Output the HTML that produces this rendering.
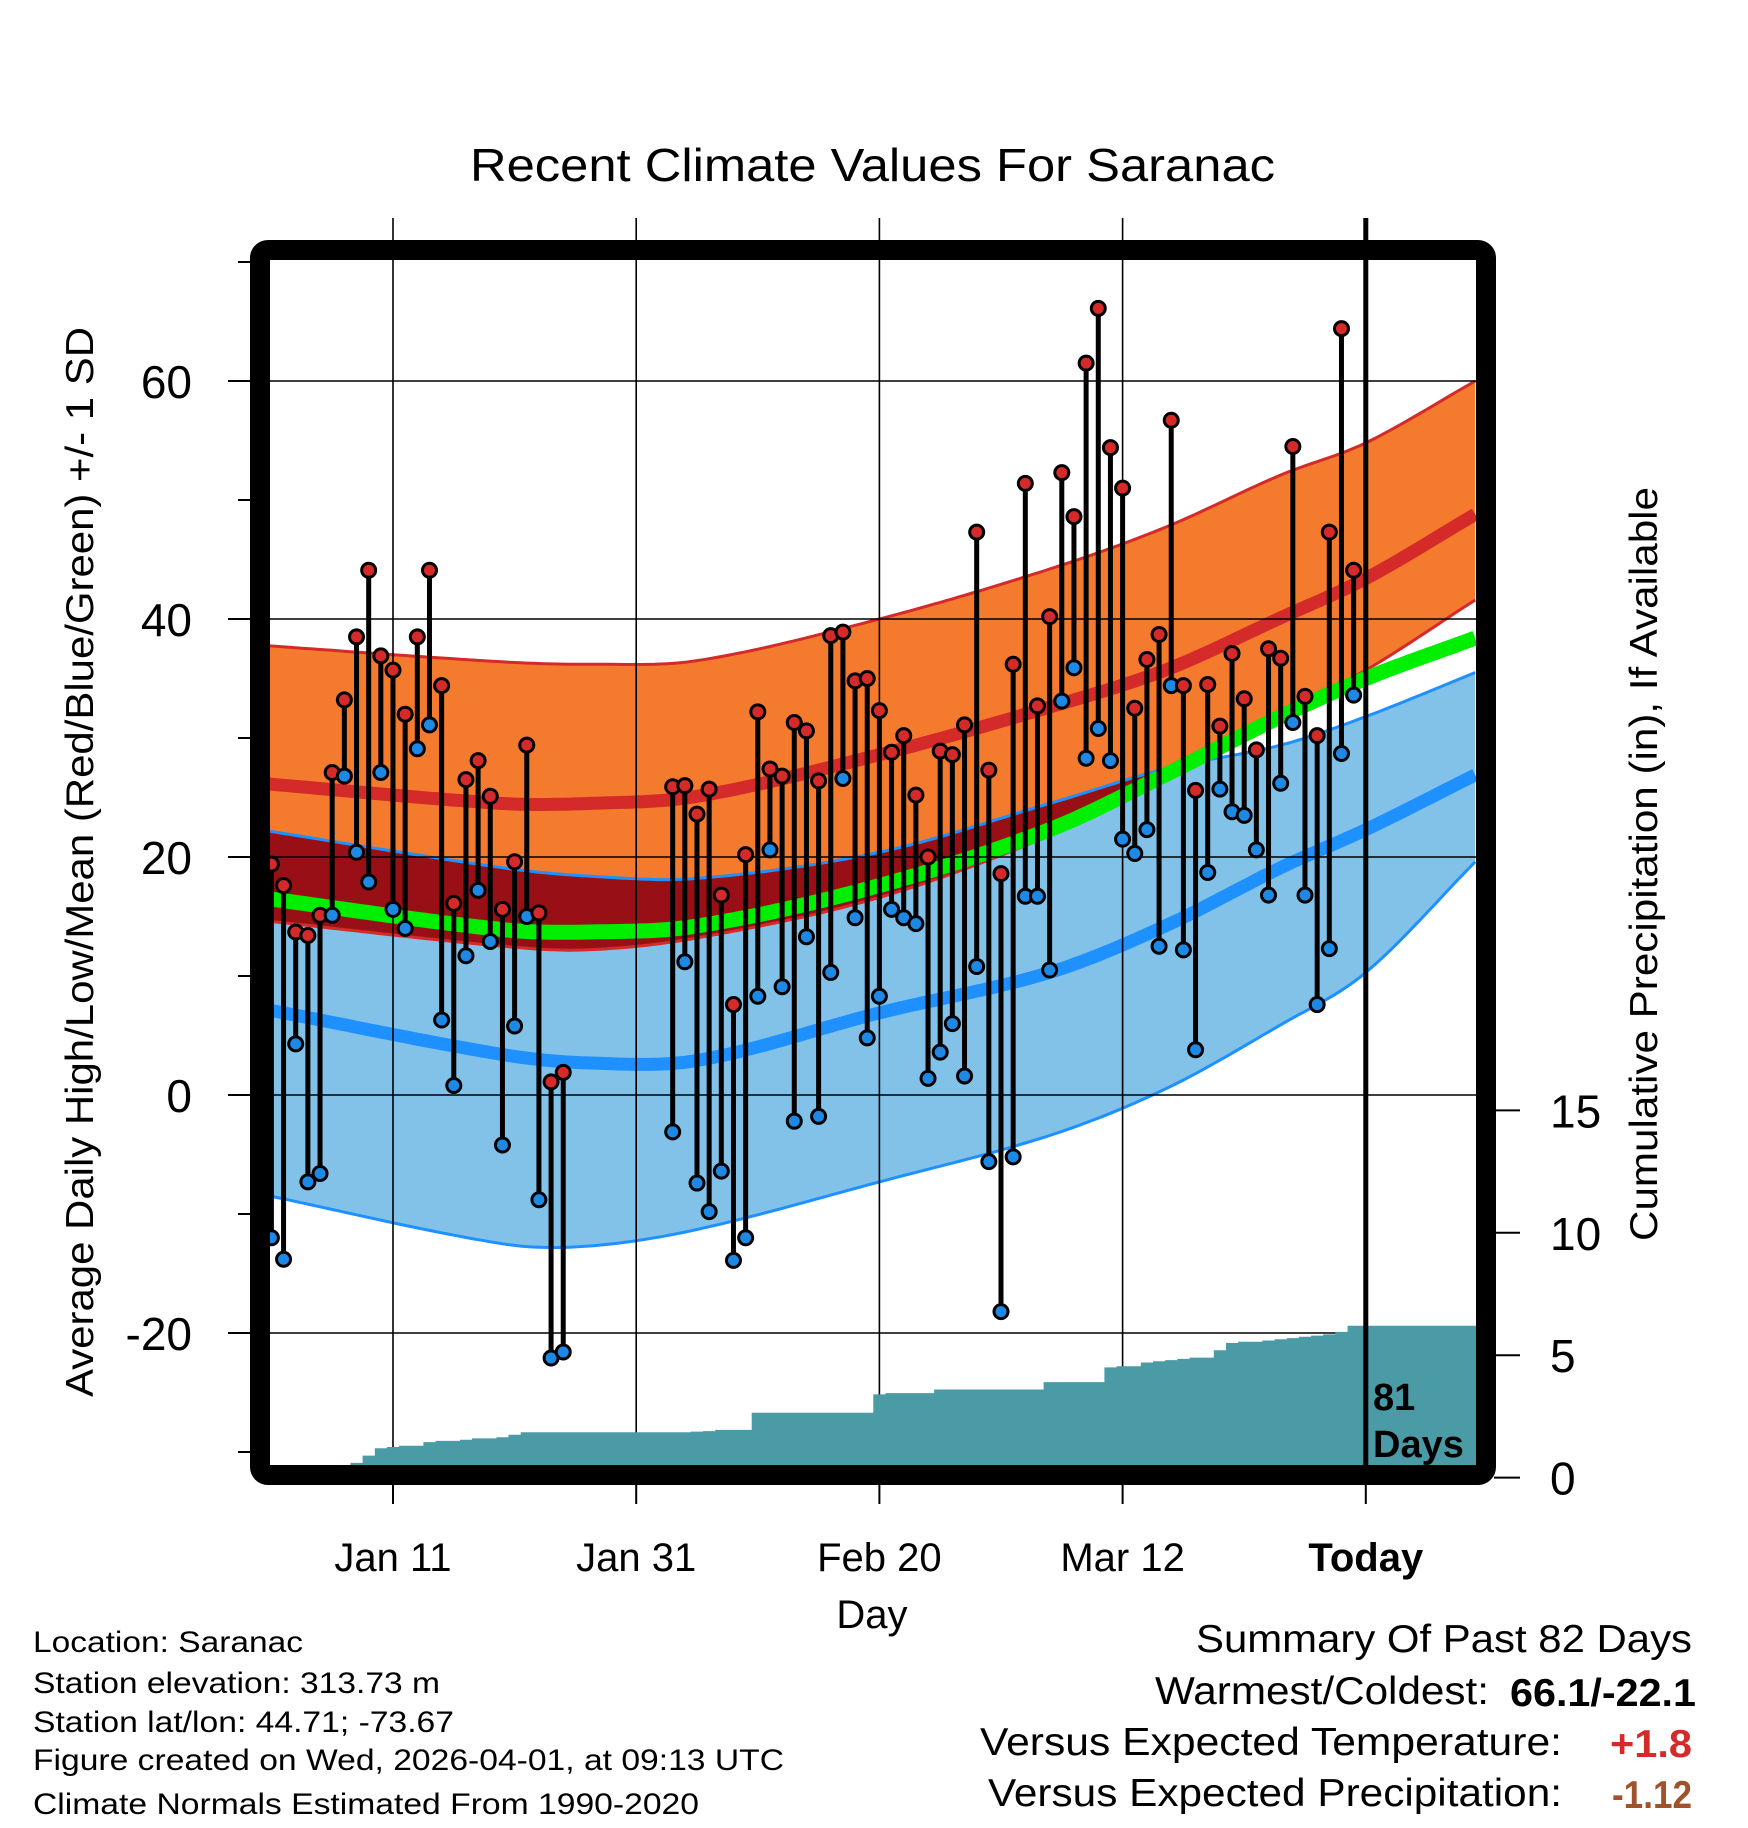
<!DOCTYPE html>
<html><head><meta charset="utf-8"><style>
html,body{margin:0;padding:0;background:#fff;}
svg{display:block;font-family:"Liberation Sans",Arial,sans-serif;}
</style></head><body>
<svg id="chart" xmlns="http://www.w3.org/2000/svg" width="1748" height="1828" viewBox="0 0 1748 1828">
<defs><clipPath id="plotclip"><rect x="270" y="260" width="1206" height="1205"/></clipPath></defs>
<text x="470" y="181" font-size="46" textLength="805" lengthAdjust="spacingAndGlyphs">Recent Climate Values For Saranac</text>
<g id="bands" clip-path="url(#plotclip)"></g>
<g id="grid"></g>
<g id="precip" clip-path="url(#plotclip)"></g>
<g id="marks"></g>
<rect x="260" y="250" width="1226" height="1225" rx="8" fill="none" stroke="#000" stroke-width="20"/>
<g id="axes"></g>
<text x="1373" y="1410" font-size="38" font-weight="bold">81</text>
<text x="1373" y="1457" font-size="38" font-weight="bold">Days</text>
<text x="872" y="1628" font-size="40" text-anchor="middle">Day</text>
<text transform="translate(93,862) rotate(-90)" font-size="39" text-anchor="middle" textLength="1070" lengthAdjust="spacingAndGlyphs">Average Daily High/Low/Mean (Red/Blue/Green) +/- 1 SD</text>
<text transform="translate(1657,864) rotate(-90)" font-size="39" text-anchor="middle" textLength="754" lengthAdjust="spacingAndGlyphs">Cumulative Precipitation (in), If Available</text>
<g font-size="30">
<text x="33" y="1652" textLength="270" lengthAdjust="spacingAndGlyphs">Location: Saranac</text>
<text x="33" y="1693" textLength="407" lengthAdjust="spacingAndGlyphs">Station elevation: 313.73 m</text>
<text x="33" y="1732" textLength="421" lengthAdjust="spacingAndGlyphs">Station lat/lon: 44.71; -73.67</text>
<text x="33" y="1770" textLength="751" lengthAdjust="spacingAndGlyphs">Figure created on Wed, 2026-04-01, at 09:13 UTC</text>
<text x="33" y="1814" textLength="666" lengthAdjust="spacingAndGlyphs">Climate Normals Estimated From 1990-2020</text>
</g>
<g font-size="39">
<text x="1196" y="1652" textLength="496" lengthAdjust="spacingAndGlyphs">Summary Of Past 82 Days</text>
<text x="1155" y="1704" textLength="334" lengthAdjust="spacingAndGlyphs">Warmest/Coldest:</text>
<text x="1510" y="1706" font-weight="bold" textLength="186" lengthAdjust="spacingAndGlyphs">66.1/-22.1</text>
<text x="980" y="1755" textLength="582" lengthAdjust="spacingAndGlyphs">Versus Expected Temperature:</text>
<text x="1610" y="1757" font-weight="bold" fill="#d42a2a" textLength="82" lengthAdjust="spacingAndGlyphs">+1.8</text>
<text x="988" y="1806" textLength="574" lengthAdjust="spacingAndGlyphs">Versus Expected Precipitation:</text>
<text x="1612" y="1808" font-weight="bold" fill="#a0522d" textLength="80" lengthAdjust="spacingAndGlyphs">-1.12</text>
</g>
</svg>
<script>
// ---- data ----
const highs = [19.4,17.6,13.7,13.4,15.1,27.1,33.2,38.5,44.1,36.9,35.7,32.0,38.5,44.1,34.4,16.1,26.5,28.1,25.1,15.6,19.6,29.4,15.3,1.1,1.9,
null,null,null,null,null,null,null,null,
25.9,26.0,23.6,25.7,16.8,7.6,20.2,32.2,27.4,26.8,31.3,30.6,26.4,38.6,38.9,34.8,35.0,32.3,28.8,30.2,25.2,20.0,28.9,28.6,31.1,47.3,27.3,18.6,36.2,51.4,32.7,40.2,52.3,48.6,61.5,66.1,54.4,51.0,32.5,36.6,38.7,56.7,34.4,25.6,34.5,31.0,37.1,33.3,29.0,37.5,36.7,54.5,33.5,30.2,47.3,64.4,44.1];
const lows = [-12.0,-13.8,4.3,-7.3,-6.6,15.1,26.8,20.4,17.9,27.1,15.6,14.0,29.1,31.1,6.3,0.8,11.7,17.2,12.9,-4.2,5.8,15.0,-8.8,-22.1,-21.6,
null,null,null,null,null,null,null,null,
-3.1,11.2,-7.4,-9.8,-6.4,-13.9,-12.0,8.3,20.6,9.1,-2.2,13.3,-1.8,10.3,26.6,14.9,4.8,8.3,15.6,14.9,14.4,1.4,3.6,6.0,1.6,10.8,-5.6,-18.2,-5.2,16.7,16.7,10.5,33.1,35.9,28.3,30.8,28.1,21.5,20.3,22.3,12.5,34.4,12.2,3.8,18.7,25.7,23.8,23.5,20.6,16.8,26.2,31.3,16.8,7.6,12.3,28.7,33.6];
const normDays = [-1,19,26,35,50,64,73.5,83,90,99];
const highUp   = [37.8,36.4,36.2,36.5,40.0,44.2,47.7,52.1,54.8,60.0];
const highMean = [26.2,24.5,24.5,25.1,28.6,32.6,35.7,40.1,43.4,48.8];
const highDn   = [14.7,12.5,12.2,13.2,16.6,21.8,26.6,32.1,35.7,41.6];
const meanT    = [16.6,13.9,13.7,14.2,17.6,22.3,26.9,31.8,35.0,38.4];
const lowUp    = [22.3,19.1,18.4,18.2,20.4,24.5,27.4,29.4,31.8,35.5];
const lowMean  = [7.3,3.4,2.7,2.9,6.9,10.3,14.2,19.1,22.3,26.9];
const lowDn    = [-8.3,-12.5,-12.7,-11.3,-7.3,-3.4,0.5,5.9,10.3,19.6];
const precipCum = [0,0,0,0,0,0.4,0.5,0.6,0.9,1.2,1.25,1.3,1.3,1.45,1.5,1.5,1.55,1.6,1.6,1.65,1.75,1.85,1.85,1.85,1.85,1.85,1.85,1.85,1.85,1.85,1.85,1.85,1.85,1.85,1.85,1.88,1.9,1.95,1.95,1.95,2.65,2.65,2.65,2.65,2.65,2.65,2.65,2.65,2.65,2.65,3.4,3.45,3.45,3.45,3.45,3.6,3.6,3.6,3.6,3.6,3.6,3.6,3.6,3.6,3.9,3.9,3.9,3.9,3.9,4.5,4.55,4.55,4.7,4.75,4.8,4.85,4.9,4.9,5.2,5.5,5.55,5.55,5.6,5.65,5.7,5.75,5.8,5.85,5.95,6.2];
const yTicks = [60,40,20,0,-20];
const yMinor = [70,50,30,10,-10,-30];
const y2Ticks = [0,5,10,15];
const xTickDays = [10,30,50,70,90];
const xTickLabels = ["Jan 11","Jan 31","Feb 20","Mar 12","Today"];
// ---- scales ----
const X = d => 393 + (d - 10) * 12.16;
const Y = v => 1095 - v * 11.9;
const YP = p => 1477.6 - p * 24.48;
const NS = "http://www.w3.org/2000/svg";
function mk(tag, attrs, parent){const e=document.createElementNS(NS,tag);for(const k in attrs)e.setAttribute(k,attrs[k]);parent.appendChild(e);return e;}
function interp(arr, d){
  const n=normDays.length; let i=0;
  while(i<n-2 && d>normDays[i+1]) i++;
  const t0=normDays[i],t1=normDays[i+1],h=t1-t0,t=(d-t0)/h;
  const slope=j=>{const a=Math.max(0,j-1),b=Math.min(n-1,j+1);return (arr[b]-arr[a])/(normDays[b]-normDays[a]);};
  const m0=slope(i)*h,m1=slope(i+1)*h,t2=t*t,t3=t2*t;
  return (2*t3-3*t2+1)*arr[i]+(t3-2*t2+t)*m0+(-2*t3+3*t2)*arr[i+1]+(t3-t2)*m1;
}
const samp=[];for(let d=-1;d<=99;d+=0.5)samp.push(d);
const line = arr => samp.map((d,i)=>(i?'L':'M')+X(d).toFixed(1)+','+Y(interp(arr,d)).toFixed(1)).join('');
const area = (a,b) => line(a)+samp.slice().reverse().map(d=>'L'+X(d).toFixed(1)+','+Y(interp(b,d)).toFixed(1)).join('')+'Z';
const bands=document.getElementById('bands');
let e;
e=mk('path',{d:area(highUp,highDn),fill:'#f47a2e'},bands);


e=mk('path',{d:area(lowUp,lowDn),fill:'#82c2e8'},bands);


const ovTop=samp.map(d=>Math.min(interp(highUp,d),interp(lowUp,d)));
const ovBot=samp.map(d=>{const b=Math.max(interp(highDn,d),interp(lowDn,d));return Math.min(b,Math.min(interp(highUp,d),interp(lowUp,d)));});
let od=samp.map((d,i)=>(i?'L':'M')+X(d).toFixed(1)+','+Y(ovTop[i]).toFixed(1)).join('');
for(let i=samp.length-1;i>=0;i--)od+='L'+X(samp[i]).toFixed(1)+','+Y(ovBot[i]).toFixed(1);
e=mk('path',{d:od+'Z',fill:'#981015'},bands);


e=mk('path',{d:line(highUp),fill:'none',stroke:'#d42a2a','stroke-width':3},bands);


e=mk('path',{d:line(highDn),fill:'none',stroke:'#d42a2a','stroke-width':3},bands);


e=mk('path',{d:line(lowUp),fill:'none',stroke:'#1e90ff','stroke-width':3},bands);


e=mk('path',{d:line(lowDn),fill:'none',stroke:'#1e90ff','stroke-width':3},bands);


e=mk('path',{d:line(highMean),fill:'none',stroke:'#d42a2a','stroke-width':13},bands);


e=mk('path',{d:line(lowMean),fill:'none',stroke:'#1e90ff','stroke-width':13},bands);


e=mk('path',{d:line(meanT),fill:'none',stroke:'#00ee00','stroke-width':15},bands);


// grid
const grid=document.getElementById('grid');
yTicks.forEach(v=>{e=mk('line',{x1:270,x2:1476,y1:Y(v),y2:Y(v),stroke:'#000','stroke-width':1.6},grid);

});
xTickDays.slice(0,4).forEach(d=>{e=mk('line',{x1:X(d),x2:X(d),y1:218,y2:1465,stroke:'#000','stroke-width':1.6},grid);

});
// precip step area
const pg=document.getElementById('precip');
let pd='M'+X(-1)+','+YP(0);
precipCum.forEach((p,i)=>{const x0=X(i-0.5),x1=X(i+0.5);pd+='L'+x0.toFixed(1)+','+YP(p).toFixed(1)+'L'+x1.toFixed(1)+','+YP(p).toFixed(1);});
pd+='L'+X(100)+','+YP(precipCum[precipCum.length-1]).toFixed(1)+'L'+X(100)+','+YP(0)+'Z';
e=mk('path',{d:pd,fill:'#4a9ba6'},pg);


// marks
const mg=document.getElementById('marks');
highs.forEach((h,i)=>{
  if(h===null)return; const l=lows[i];
  e=mk('line',{x1:X(i),x2:X(i),y1:Y(h),y2:Y(l),stroke:'#000','stroke-width':5},mg);
  
  
});
highs.forEach((h,i)=>{
  if(h===null)return; const l=lows[i];
  e=mk('circle',{cx:X(i),cy:Y(h),r:7,fill:'#d42a2a',stroke:'#000','stroke-width':3},mg);
  
  
  e=mk('circle',{cx:X(i),cy:Y(l),r:7,fill:'#1e88e5',stroke:'#000','stroke-width':3},mg);
  
  
});
// axes
const ax=document.getElementById('axes');
yTicks.forEach(v=>{
  e=mk('line',{x1:228,x2:252,y1:Y(v),y2:Y(v),stroke:'#000','stroke-width':2},ax);
  
  
  e=mk('text',{x:192,y:Y(v)+17,'font-size':46,'text-anchor':'end'},ax);
  e.textContent=v;
  
  
});
yMinor.forEach(v=>{e=mk('line',{x1:238,x2:252,y1:Y(v),y2:Y(v),stroke:'#000','stroke-width':2},ax);

});
y2Ticks.forEach(p=>{
  e=mk('line',{x1:1494,x2:1520,y1:YP(p),y2:YP(p),stroke:'#000','stroke-width':2},ax);
  
  
  e=mk('text',{x:1550,y:YP(p)+17,'font-size':46},ax);
  e.textContent=p;
  
  
});
xTickDays.forEach((d,i)=>{
  e=mk('line',{x1:X(d),x2:X(d),y1:1484,y2:1504,stroke:'#000','stroke-width':2},ax);
  
  
  e=mk('text',{x:X(d),y:1571,'font-size':40,'text-anchor':'middle'},ax);
  if(i===4)e.setAttribute('font-weight','bold');
  e.textContent=xTickLabels[i];
  
  
});
e=mk('line',{x1:X(90),x2:X(90),y1:218,y2:1468,stroke:'#000','stroke-width':5},ax);


</script>
</body></html>
